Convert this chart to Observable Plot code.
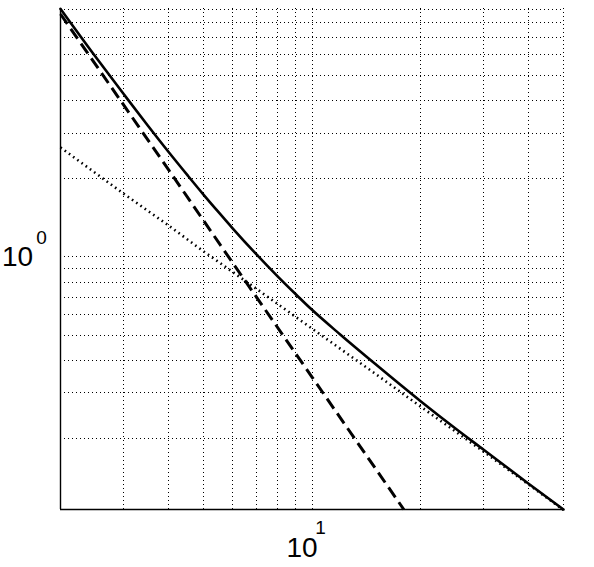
<!DOCTYPE html>
<html>
<head>
<meta charset="utf-8">
<script src="https://cdn.jsdelivr.net/npm/d3@7"></script>
<script src="https://cdn.jsdelivr.net/npm/@observablehq/plot@0.6"></script>
<style>
  html, body { margin: 0; padding: 0; background: #fff; }
  #chart svg { display: block; }
</style>
</head>
<body>
<div id="chart"></div>
<script>
// ---- data (log–log axes) ----
const xDomain = [2, 50];
const yDomain = [0.1066, 9.05];

// solid curve
const solidX = [2, 2.5, 3, 3.5, 4, 4.5, 5, 5.5, 6, 7, 8, 9, 10, 12, 15, 20, 25, 30, 40, 50];
const solidY = [9.02, 5.91, 4.23, 3.2, 2.53, 2.07, 1.735, 1.487, 1.295, 1.025, 0.846, 0.72, 0.626, 0.502, 0.387, 0.279, 0.219, 0.181, 0.134, 0.1066];

// dashed curve
const dashedX = [2, 4, 6, 10, 18];
const dashedY = [8.62, 2.16, 0.955, 0.345, 0.1066];

// dotted curve
const dottedX = [2, 3, 4, 5, 7, 10, 15, 20, 30, 40, 50];
const dottedY = [2.64, 1.75, 1.32, 1.05, 0.755, 0.53, 0.355, 0.266, 0.178, 0.133, 0.1062];

// grid lines (minor log ticks) and tick labels
const xGrid = [2, 3, 4, 5, 6, 7, 8, 9, 10, 20, 30, 40, 50];
const yGrid = [0.2, 0.3, 0.4, 0.5, 0.6, 0.7, 0.8, 0.9, 1, 2, 3, 4, 5, 6, 7, 8, 9];
const xTickValues = [10];
const xTickBases = ["10"];
const xTickExponents = ["1"];
const yTickValues = [1];
const yTickBases = ["10"];
const yTickExponents = ["0"];

const solid = solidX.map((x, i) => ({x, y: solidY[i]}));
const dashed = dashedX.map((x, i) => ({x, y: dashedY[i]}));
const dotted = dottedX.map((x, i) => ({x, y: dottedY[i]}));

const FONT = "Liberation Sans";
const gridStyle = {stroke: "#000", strokeWidth: 1, strokeDasharray: "1,3", shapeRendering: "crispEdges"};
const labelStyle = {fontFamily: FONT, textAnchor: "middle", lineAnchor: "middle", fill: "#000"};

const chart = Plot.plot({
  width: 594,
  height: 567,
  marginLeft: 60,
  marginRight: 31,
  marginTop: 8,
  marginBottom: 58,
  x: {type: "log", domain: xDomain, axis: null},
  y: {type: "log", domain: yDomain, axis: null},
  style: {background: "#fff", fontFamily: FONT, color: "#000"},
  marks: [
    Plot.ruleX(xGrid, gridStyle),
    Plot.ruleY(yGrid, gridStyle),
    Plot.ruleX([xDomain[0]], {stroke: "#000", strokeWidth: 1.4}),
    Plot.ruleY([yDomain[0]], {stroke: "#000", strokeWidth: 1.4}),
    Plot.line(dotted, {x: "x", y: "y", stroke: "#000", strokeWidth: 2.6, strokeDasharray: "1.6,3.6", strokeLinecap: "butt"}),
    Plot.line(dashed, {x: "x", y: "y", stroke: "#000", strokeWidth: 3, strokeDasharray: "12,6", strokeLinecap: "butt"}),
    Plot.line(solid, {x: "x", y: "y", stroke: "#000", strokeWidth: 2.6, curve: "monotone-x"}),
    // x tick label 10^1
    Plot.text(xTickValues, {...labelStyle, x: d => d, frameAnchor: "bottom", text: (d, i) => xTickBases[i], fontSize: 28, dx: -10, dy: 39}),
    Plot.text(xTickValues, {...labelStyle, x: d => d, frameAnchor: "bottom", text: (d, i) => xTickExponents[i], fontSize: 19, dx: 8.5, dy: 18.5}),
    // y tick label 10^0
    Plot.text(yTickValues, {...labelStyle, y: d => d, frameAnchor: "left", text: (d, i) => yTickBases[i], fontSize: 28, dx: -43, dy: 0}),
    Plot.text(yTickValues, {...labelStyle, y: d => d, frameAnchor: "left", text: (d, i) => yTickExponents[i], fontSize: 19, dx: -19, dy: -19.5})
  ]
});
document.getElementById("chart").appendChild(chart);
</script>
</body>
</html>
